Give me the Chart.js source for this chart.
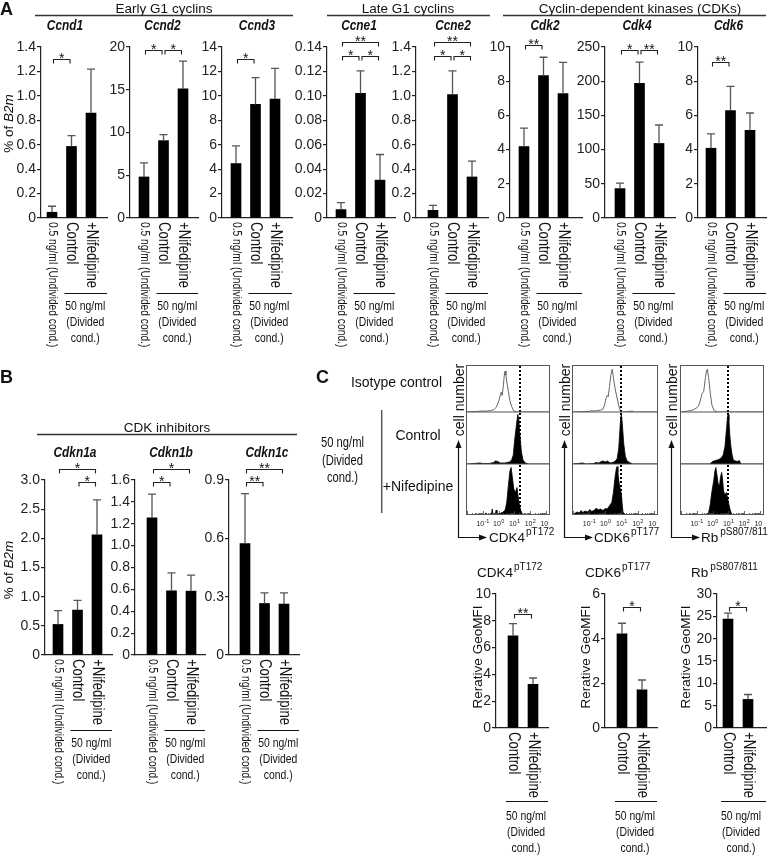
<!DOCTYPE html>
<html><head><meta charset="utf-8">
<script src="https://cdn.jsdelivr.net/npm/chart.js@4.4.1/dist/chart.umd.min.js"></script>
<style>
html,body{margin:0;padding:0;background:#fff;}
#root{position:relative;width:768px;height:855px;overflow:hidden;background:#fff;}
#root canvas{position:absolute;z-index:1;}
#ov{position:absolute;left:0;top:0;z-index:2;pointer-events:none;}
</style></head><body>
<div id="root">
<svg id="ov" width="768" height="855" font-family='"Liberation Sans", Arial, sans-serif' fill="#111">
 <text x="0" y="14.5" font-size="18" font-weight="bold">A</text>
 <text x="0" y="382.5" font-size="18" font-weight="bold">B</text>
 <text x="316" y="382.5" font-size="18" font-weight="bold">C</text>
 <g font-size="13.5" text-anchor="middle">
  <text x="164" y="12.5">Early G1 cyclins</text>
  <text x="408" y="12.5">Late G1 cyclins</text>
  <text x="640" y="12.5">Cyclin-dependent kinases (CDKs)</text>
  <text x="167" y="431.5">CDK inhibitors</text>
 </g>
 <g stroke="#333" stroke-width="1.3">
  <line x1="35" y1="15.5" x2="293" y2="15.5"/>
  <line x1="327" y1="15.5" x2="490" y2="15.5"/>
  <line x1="503" y1="15.5" x2="766" y2="15.5"/>
  <line x1="37" y1="434.5" x2="297" y2="434.5"/>
 </g>
 <g font-size="14" font-weight="bold" font-style="italic" text-anchor="middle">
  <text transform="translate(65,30) scale(0.85,1)">Ccnd1</text>
  <text transform="translate(162.5,30) scale(0.85,1)">Ccnd2</text>
  <text transform="translate(257,30) scale(0.85,1)">Ccnd3</text>
  <text transform="translate(359,30) scale(0.85,1)">Ccne1</text>
  <text transform="translate(453,30) scale(0.85,1)">Ccne2</text>
  <text transform="translate(545,30) scale(0.85,1)">Cdk2</text>
  <text transform="translate(637,30) scale(0.85,1)">Cdk4</text>
  <text transform="translate(728.5,30) scale(0.85,1)">Cdk6</text>
  <text transform="translate(75,456.5) scale(0.85,1)">Cdkn1a</text>
  <text transform="translate(171,456.5) scale(0.85,1)">Cdkn1b</text>
  <text transform="translate(267,456.5) scale(0.85,1)">Cdkn1c</text>
 </g>
 <g font-size="13.5" text-anchor="middle">
  <text transform="translate(13,123.5) rotate(-90)">% of <tspan font-style="italic">B2m</tspan></text>
  <text transform="translate(13,570) rotate(-90)">% of <tspan font-style="italic">B2m</tspan></text>
  <text transform="translate(481.5,657) rotate(-90)">Rerative GeoMFI</text>
  <text transform="translate(590,657) rotate(-90)">Rerative GeoMFI</text>
  <text transform="translate(690,657) rotate(-90)">Rerative GeoMFI</text>
 </g>
 <!-- panel C row labels -->
 <g font-size="14">
  <text x="442" y="387" text-anchor="end">Isotype control</text>
  <text x="418" y="440" text-anchor="middle">Control</text>
  <text x="418" y="491" text-anchor="middle">+Nifedipine</text>
 </g>
 <line x1="381.7" y1="410" x2="381.7" y2="513" stroke="#555" stroke-width="1.5"/>
 <g font-size="14" text-anchor="middle">
  <text transform="translate(342.5,447) scale(0.8,1)">50 ng/ml</text>
  <text transform="translate(342.5,465) scale(0.8,1)">(Divided</text>
  <text transform="translate(342.5,482) scale(0.8,1)">cond.)</text>
 </g>
 <!-- histogram boxes -->
 <g fill="none" stroke="#555" stroke-width="1">
  <rect x="466.5" y="365.5" width="83" height="149"/>
  <rect x="572.5" y="365.5" width="85" height="149"/>
  <rect x="680.5" y="365.5" width="83" height="149"/>
  <line x1="466.5" y1="412" x2="549.5" y2="412"/><line x1="466.5" y1="464" x2="549.5" y2="464"/>
  <line x1="572.5" y1="412" x2="657.5" y2="412"/><line x1="572.5" y1="464" x2="657.5" y2="464"/>
  <line x1="680.5" y1="412" x2="763.5" y2="412"/><line x1="680.5" y1="464" x2="763.5" y2="464"/>
 </g>
 <g font-size="14" text-anchor="middle">
  <text transform="translate(464,400) rotate(-90)">cell number</text>
  <text transform="translate(569.5,400) rotate(-90)">cell number</text>
  <text transform="translate(677,400) rotate(-90)">cell number</text>
 </g>
 <g stroke="#111" stroke-width="1.2" fill="none">
  <polyline points="458.5,446 458.5,537.5 480,537.5"/>
  <polyline points="564.5,446 564.5,537.5 586,537.5"/>
  <polyline points="671.5,446 671.5,537.5 693,537.5"/>
 </g>
 <g fill="#111">
  <polygon points="458.5,440 455.5,448 461.5,448"/>
  <polygon points="487,537.5 479,534.5 479,540.5"/>
  <polygon points="564.5,440 561.5,448 567.5,448"/>
  <polygon points="593,537.5 585,534.5 585,540.5"/>
  <polygon points="671.5,440 668.5,448 674.5,448"/>
  <polygon points="700,537.5 692,534.5 692,540.5"/>
 </g>
 <g font-size="13.5">
  <text x="489" y="542">CDK4<tspan font-size="10" dy="-7" dx="1">pT172</tspan></text>
  <text x="594" y="542">CDK6<tspan font-size="10" dy="-7" dx="1">pT177</tspan></text>
  <text x="701" y="542">Rb<tspan font-size="10" dy="-7" dx="2">pS807/811</tspan></text>
  <text x="477" y="577">CDK4<tspan font-size="10" dy="-7" dx="1">pT172</tspan></text>
  <text x="585" y="577">CDK6<tspan font-size="10" dy="-7" dx="1">pT177</tspan></text>
  <text x="691" y="577">Rb<tspan font-size="10" dy="-7" dx="2">pS807/811</tspan></text>
 </g>
</svg>
</div>
<script>
// ===================== DATA =====================
const condA = ['0.5 ng/ml (Undivided cond.)', 'Control', '+Nifedipine'];
const condC = ['Control', '+Nifedipine'];
const groupText = ['50 ng/ml', '(Divided', 'cond.)'];

// Panel A (% of B2m): means and SD (upper error)
const ccnd1Mean = [0.047, 0.586, 0.86],   ccnd1Err = [0.049, 0.089, 0.359];
const ccnd2Mean = [4.8, 9.05, 15.1],      ccnd2Err = [1.65, 0.7, 3.25];
const ccnd3Mean = [4.46, 9.3, 9.74],      ccnd3Err = [1.44, 2.2, 2.51];
const ccne1Mean = [0.0069, 0.102, 0.031], ccne1Err = [0.0057, 0.0185, 0.021];
const ccne2Mean = [0.063, 1.01, 0.336],   ccne2Err = [0.041, 0.195, 0.129];
const cdk2Mean  = [4.18, 8.33, 7.27],     cdk2Err  = [1.08, 1.07, 1.83];
const cdk4Mean  = [43, 197, 109],         cdk4Err  = [8, 31, 27];
const cdk6Mean  = [4.08, 6.28, 5.12],     cdk6Err  = [0.84, 1.42, 1.02];
// Panel B
const cdkn1aMean = [0.524, 0.77, 2.06],   cdkn1aErr = [0.236, 0.165, 0.6];
const cdkn1bMean = [1.255, 0.587, 0.584], cdkn1bErr = [0.215, 0.163, 0.146];
const cdkn1cMean = [0.573, 0.265, 0.262], cdkn1cErr = [0.257, 0.055, 0.058];
// Panel C (relative GeoMFI)
const cdk4pMean = [6.87, 3.26], cdk4pErr = [0.92, 0.47];
const cdk6pMean = [4.22, 1.71], cdk6pErr = [0.47, 0.44];
const rbpMean   = [24.4, 6.4],  rbpErr   = [1.3, 1.1];

// significance: [bar i, bar j, label]
const ccnd1Sig = [[0,1,'*']];
const ccnd2Sig = [[0,1,'*'],[1,2,'*']];
const ccnd3Sig = [[0,1,'*']];
const ccne1Sig = [[0,1,'*'],[1,2,'*'],[0,2,'**']];
const ccne2Sig = [[0,1,'*'],[1,2,'*'],[0,2,'**']];
const cdk2Sig  = [[0,1,'**']];
const cdk4Sig  = [[0,1,'*'],[1,2,'**']];
const cdk6Sig  = [[0,1,'**']];
const cdkn1aSig = [[0,2,'*'],[1,2,'*']];
const cdkn1bSig = [[0,2,'*'],[0,1,'*']];
const cdkn1cSig = [[0,2,'**'],[0,1,'**']];
const cdk4pSig = [[0,1,'**']];
const cdk6pSig = [[0,1,'*']];
const rbpSig   = [[0,1,'*']];

// flow histograms: [log10 intensity, relative cell count]
const histTickExp = [-1, 0, 1, 2, 3];
const cdk4Iso = [[-2,0],[-1.7,1],[-1.4,1],[-1.1,2],[-0.8,2],[-0.5,3],[-0.3,5],[-0.15,10],[0,22],[0.1,35],[0.17,43],[0.23,36],[0.3,55],[0.36,78],[0.41,89],[0.47,80],[0.55,60],[0.62,45],[0.72,25],[0.83,12],[0.97,2],[1.2,0],[3.2,0]];
const cdk4Ctrl = [[-2,0],[-1.5,1],[-1.2,2],[-1.0,1],[-0.6,1],[-0.3,3],[-0.2,6],[-0.05,5],[0.1,2],[0.4,2],[0.7,4],[0.83,8],[0.93,17],[1.03,49],[1.14,78],[1.22,97],[1.28,90],[1.34,62],[1.45,24],[1.55,8],[1.7,2],[1.9,0],[3.2,0]];
const cdk4Nif = [[-2,0],[-1.3,1],[-0.9,1],[-0.8,4],[-0.7,1],[-0.45,2],[-0.4,12],[-0.35,2],[-0.2,3],[-0.15,10],[-0.1,2],[0.1,3],[0.3,6],[0.42,10],[0.52,25],[0.62,58],[0.72,88],[0.8,95],[0.89,72],[0.97,52],[1.07,45],[1.17,55],[1.28,28],[1.38,12],[1.5,2],[1.7,0],[3.2,0]];
const cdk6Iso = [[-2,0],[-1.0,1],[-0.9,3],[-0.7,2],[-0.5,3],[-0.3,4],[-0.15,6],[-0.05,15],[0.05,30],[0.12,36],[0.18,33],[0.26,55],[0.34,80],[0.43,93],[0.5,75],[0.6,52],[0.7,35],[0.83,14],[0.94,2],[1.1,0],[1.7,2],[1.8,0],[3.2,0]];
const cdk6Ctrl = [[-2,0],[-1.4,2],[-1.2,0],[-0.7,1],[-0.6,3],[-0.4,2],[-0.3,4],[-0.15,6],[0,4],[0.12,6],[0.3,2],[0.55,4],[0.73,10],[0.83,30],[0.89,60],[0.95,90],[1.0,97],[1.05,80],[1.14,40],[1.24,15],[1.35,6],[1.5,3],[1.7,0],[3.2,0]];
const cdk6Nif = [[-2,0],[-1.9,3],[-1.75,6],[-1.6,4],[-1.5,9],[-1.4,5],[-1.25,8],[-1.1,6],[-0.95,11],[-0.85,7],[-0.7,9],[-0.55,14],[-0.45,10],[-0.3,12],[-0.15,9],[0,13],[0.12,12],[0.25,18],[0.4,25],[0.5,45],[0.6,75],[0.68,92],[0.73,97],[0.78,85],[0.85,65],[0.94,50],[1.0,40],[1.05,20],[1.1,5],[1.25,1],[1.4,0],[3.2,0]];
const rbIso = [[-2,0],[-1.75,1],[-1.6,2],[-1.4,3],[-1.2,5],[-1.0,9],[-0.87,15],[-0.75,28],[-0.66,40],[-0.56,45],[-0.45,75],[-0.38,90],[-0.33,93],[-0.25,75],[-0.14,40],[-0.04,15],[0.1,3],[0.3,0],[3.2,0]];
const rbCtrl = [[-2,0],[-0.2,0],[-0.1,2],[0.0,5],[0.2,7],[0.4,9],[0.55,12],[0.68,18],[0.79,35],[0.89,70],[0.95,92],[0.99,97],[1.04,85],[1.1,55],[1.16,35],[1.24,18],[1.32,8],[1.45,6],[1.6,5],[1.7,7],[1.76,2],[1.85,0],[3.2,0]];
const rbNif = [[-2,0],[-0.4,0],[-0.25,5],[-0.15,20],[-0.05,45],[0.08,70],[0.15,88],[0.21,95],[0.28,80],[0.36,62],[0.44,58],[0.5,75],[0.58,85],[0.64,70],[0.7,48],[0.78,40],[0.88,45],[0.95,35],[1.03,22],[1.12,10],[1.2,3],[1.3,0],[3.2,0]];

// ===================== RENDER =====================
const FONT = '"Liberation Sans", Arial, Helvetica, sans-serif';
Chart.defaults.font.family = FONT;
Chart.defaults.font.size = 14;
Chart.defaults.color = '#222';
const root = document.getElementById('root');

function decorPlugin(o) {
  return {
    id: 'decor',
    afterDatasetsDraw(chart) {
      const ctx = chart.ctx, xs = chart.scales.x, ys = chart.scales.y, ca = chart.chartArea;
      ctx.save();
      // error bars
      ctx.strokeStyle = '#555'; ctx.lineWidth = 1.3;
      o.mean.forEach((m, i) => {
        const x = xs.getPixelForValue(i), y0 = ys.getPixelForValue(m), y1 = ys.getPixelForValue(m + o.err[i]);
        ctx.beginPath(); ctx.moveTo(x, y0); ctx.lineTo(x, y1);
        ctx.moveTo(x - 4, y1); ctx.lineTo(x + 4, y1); ctx.stroke();
      });
      // significance brackets
      ctx.strokeStyle = '#222'; ctx.lineWidth = 1.1; ctx.fillStyle = '#111';
      ctx.font = '14px ' + FONT; ctx.textAlign = 'center'; ctx.textBaseline = 'alphabetic';
      o.sig.forEach((b, k) => {
        const xa = xs.getPixelForValue(b[0]) + 1.5, xb = xs.getPixelForValue(b[1]) - 1.5;
        const y = Math.round(ys.getPixelForValue(o.sigLevel[k])) + 0.5;
        ctx.beginPath(); ctx.moveTo(xa, y + 4); ctx.lineTo(xa, y); ctx.lineTo(xb, y); ctx.lineTo(xb, y + 4); ctx.stroke();
        ctx.fillText(b[2], (xa + xb) / 2, y + 3.5);
      });
      // rotated category labels
      const yb = ca.bottom;
      ctx.fillStyle = '#111';
      o.labels.forEach((lab, i) => {
        const x = xs.getPixelForValue(i);
        ctx.save(); ctx.translate(x, yb + 4); ctx.rotate(Math.PI / 2); ctx.scale(0.82, 1);
        ctx.font = (lab.length > 15 ? '12.5px ' : '16px ') + FONT;
        ctx.textAlign = 'left'; ctx.textBaseline = 'middle';
        ctx.fillText(lab, 0, 0); ctx.restore();
      });
      // divided-condition group
      const g0 = o.groupStart, g1 = o.labels.length - 1;
      const xl = xs.getPixelForValue(g0) - 7, xr = ca.right;
      const ly = Math.round(yb + o.lineOff) + 0.5;
      ctx.strokeStyle = '#111'; ctx.lineWidth = 1.2;
      ctx.beginPath(); ctx.moveTo(xl, ly); ctx.lineTo(xr, ly); ctx.stroke();
      const xc = (xs.getPixelForValue(g0) + xs.getPixelForValue(g1)) / 2 + o.textShift;
      groupText.forEach((t, k) => {
        ctx.save(); ctx.translate(xc, yb + 88 + k * 16); ctx.scale(0.8, 1);
        ctx.font = '13px ' + FONT; ctx.textAlign = 'center'; ctx.textBaseline = 'middle';
        ctx.fillText(t, 0, 0); ctx.restore();
      });
      ctx.restore();
    }
  };
}

function barChart(o) {
  const left = o.axisX - 38, width = o.end - o.axisX + 38 + 6;
  const cv = document.createElement('canvas');
  cv.width = width; cv.height = o.height;
  cv.style.left = left + 'px'; cv.style.top = o.top + 'px';
  root.appendChild(cv);
  const YW = o.axisX - left;
  new Chart(cv, {
    type: 'bar',
    data: { datasets: [{ data: o.mean.map((v, i) => ({ x: i, y: v })), backgroundColor: '#000', borderWidth: 0, barThickness: 10 }] },
    options: {
      responsive: false, animation: false, devicePixelRatio: 1,
      layout: { padding: { left: 0, right: left + width - o.end, top: o.plotTop - o.top, bottom: o.top + o.height - o.plotBottom } },
      plugins: { legend: { display: false }, tooltip: { enabled: false } },
      scales: {
        x: { type: 'linear', offset: false, min: -(o.c0 - o.axisX) / o.sp, max: (o.end - o.c0) / o.sp,
             grid: { display: false }, ticks: { display: false },
             border: { display: true, color: '#222', width: 1.2 },
             afterFit: s => { s.height = 0; } },
        y: { min: 0, max: o.ymax,
             ticks: { stepSize: o.step, autoSkip: false, padding: 1, color: '#222', font: { size: 14, family: FONT },
                      callback: v => (Math.abs(v) < 1e-9 ? '0' : Number(v).toFixed(o.dec)) },
             grid: { drawOnChartArea: false, drawTicks: true, tickLength: 4, color: '#222', lineWidth: 1.2 },
             border: { display: true, color: '#222', width: 1.2 },
             afterFit: s => { s.width = YW; } }
      }
    },
    plugins: [decorPlugin(o)]
  });
}

// Panel A
const aBase = { top: 30, plotTop: 47, plotBottom: 218, height: 330, sp: 19.5, labels: condA, groupStart: 1, lineOff: 75, textShift: 4 };
[
  { axisX: 41,  c0: 52,  end: 107, ymax: 1.4,  step: 0.2,  dec: 1, mean: ccnd1Mean, err: ccnd1Err, sig: ccnd1Sig, sigLevel: [1.3] },
  { axisX: 130, c0: 144, end: 198, ymax: 20,   step: 5,    dec: 0, mean: ccnd2Mean, err: ccnd2Err, sig: ccnd2Sig, sigLevel: [19.7, 19.7] },
  { axisX: 222, c0: 236, end: 292, ymax: 14,   step: 2,    dec: 0, mean: ccnd3Mean, err: ccnd3Err, sig: ccnd3Sig, sigLevel: [13.0] },
  { axisX: 327, c0: 341, end: 395, ymax: 0.14, step: 0.02, dec: 2, mean: ccne1Mean, err: ccne1Err, sig: ccne1Sig, sigLevel: [0.1325, 0.1325, 0.144] },
  { axisX: 416, c0: 433, end: 488, ymax: 1.4,  step: 0.2,  dec: 1, mean: ccne2Mean, err: ccne2Err, sig: ccne2Sig, sigLevel: [1.325, 1.325, 1.44] },
  { axisX: 510, c0: 524, end: 582, ymax: 10,   step: 2,    dec: 0, mean: cdk2Mean,  err: cdk2Err,  sig: cdk2Sig,  sigLevel: [10.1] },
  { axisX: 605, c0: 620, end: 675, ymax: 250,  step: 50,   dec: 0, mean: cdk4Mean,  err: cdk4Err,  sig: cdk4Sig,  sigLevel: [245, 245] },
  { axisX: 698, c0: 711, end: 766, ymax: 10,   step: 2,    dec: 0, mean: cdk6Mean,  err: cdk6Err,  sig: cdk6Sig,  sigLevel: [9.1] }
].forEach(c => barChart(Object.assign({}, aBase, c)));

// Panel B
const bBase = { top: 452, plotTop: 480, plotBottom: 655, height: 335, sp: 19.5, labels: condA, groupStart: 1, lineOff: 75, textShift: 4 };
[
  { axisX: 45,  c0: 58,  end: 112, ymax: 3.0, step: 0.5, dec: 1, mean: cdkn1aMean, err: cdkn1aErr, sig: cdkn1aSig, sigLevel: [3.19, 2.97] },
  { axisX: 135, c0: 152, end: 205, ymax: 1.6, step: 0.2, dec: 1, mean: cdkn1bMean, err: cdkn1bErr, sig: cdkn1bSig, sigLevel: [1.70, 1.584] },
  { axisX: 229, c0: 245, end: 299, ymax: 0.9, step: 0.3, dec: 1, mean: cdkn1cMean, err: cdkn1cErr, sig: cdkn1cSig, sigLevel: [0.957, 0.891] }
].forEach(c => barChart(Object.assign({}, bBase, c)));

// Panel C bars
const cBase = { top: 580, plotTop: 594, plotBottom: 728, height: 275, sp: 20, labels: condC, groupStart: 0, lineOff: 73, textShift: 3 };
[
  { axisX: 496, c0: 513, end: 548, ymax: 10, step: 2, dec: 0, mean: cdk4pMean, err: cdk4pErr, sig: cdk4pSig, sigLevel: [8.5] },
  { axisX: 605, c0: 622, end: 657, ymax: 6,  step: 2, dec: 0, mean: cdk6pMean, err: cdk6pErr, sig: cdk6pSig, sigLevel: [5.43] },
  { axisX: 717, c0: 728, end: 766, ymax: 30, step: 5, dec: 0, mean: rbpMean,   err: rbpErr,   sig: rbpSig,   sigLevel: [27.1] }
].forEach(c => barChart(Object.assign({}, cBase, c)));

// Panel C histograms
function histPlugin(dashV, isBottom) {
  return {
    id: 'histdecor',
    afterDraw(chart) {
      const ctx = chart.ctx, xs = chart.scales.x, ca = chart.chartArea;
      ctx.save();
      const dx = Math.round(xs.getPixelForValue(dashV));
      ctx.strokeStyle = '#000'; ctx.lineWidth = 2; ctx.setLineDash([2, 2]);
      ctx.beginPath(); ctx.moveTo(dx, ca.top); ctx.lineTo(dx, ca.bottom); ctx.stroke();
      ctx.setLineDash([]);
      if (isBottom) {
        ctx.strokeStyle = '#444'; ctx.lineWidth = 0.8;
        for (let d = -2; d <= 3; d++) {
          for (let k = 1; k <= 9; k++) {
            const v = d + Math.log10(k);
            if (v < xs.min || v > xs.max) continue;
            const x = Math.round(xs.getPixelForValue(v)) + 0.5;
            ctx.beginPath(); ctx.moveTo(x, ca.bottom); ctx.lineTo(x, ca.bottom - (k === 1 ? 4 : 2)); ctx.stroke();
          }
        }
        ctx.fillStyle = '#222'; ctx.textBaseline = 'alphabetic'; ctx.textAlign = 'left';
        histTickExp.forEach(e => {
          const x = xs.getPixelForValue(e);
          ctx.font = '7px ' + FONT; const w1 = ctx.measureText('10').width;
          ctx.font = '5.5px ' + FONT; const w2 = ctx.measureText(String(e)).width;
          const x0 = x - (w1 + w2) / 2;
          ctx.font = '7px ' + FONT; ctx.fillText('10', x0, ca.bottom + 10.5);
          ctx.font = '5.5px ' + FONT; ctx.fillText(String(e), x0 + w1 + 0.3, ca.bottom + 7.5);
        });
      }
      ctx.restore();
    }
  };
}

function hist(bx, bw, rowTop, rowBot, pts, filled, dashV, isBottom) {
  const cv = document.createElement('canvas');
  const h = rowBot - rowTop - 1 + (isBottom ? 14 : 0);
  cv.width = bw - 2; cv.height = h;
  cv.style.left = (bx + 1) + 'px'; cv.style.top = (rowTop + 1) + 'px';
  root.appendChild(cv);
  new Chart(cv, {
    type: 'line',
    data: { datasets: [{ data: pts.map(p => ({ x: p[0], y: p[1] })), borderColor: filled ? '#000' : '#666',
      borderWidth: filled ? 0.8 : 1, backgroundColor: '#000', fill: filled ? 'origin' : false, pointRadius: 0, tension: 0 }] },
    options: {
      responsive: false, animation: false, devicePixelRatio: 1,
      layout: { padding: { left: 0, right: 0, top: 0, bottom: isBottom ? 14 : 0 } },
      plugins: { legend: { display: false }, tooltip: { enabled: false } },
      scales: { x: { type: 'linear', min: -2, max: 3.2, display: false }, y: { min: 0, max: 100, display: false } }
    },
    plugins: [histPlugin(dashV, isBottom)]
  });
}

const rows = [[365, 412], [412, 464], [464, 514]];
[
  { bx: 466, bw: 84, dash: 1.34, sets: [cdk4Iso, cdk4Ctrl, cdk4Nif] },
  { bx: 572, bw: 86, dash: 1.0,  sets: [cdk6Iso, cdk6Ctrl, cdk6Nif] },
  { bx: 680, bw: 84, dash: 0.97, sets: [rbIso, rbCtrl, rbNif] }
].forEach(b => {
  b.sets.forEach((pts, r) => hist(b.bx, b.bw, rows[r][0], rows[r][1] + (r === 2 ? 1 : 0), pts, r > 0, b.dash, r === 2));
});
</script>
</body></html>
